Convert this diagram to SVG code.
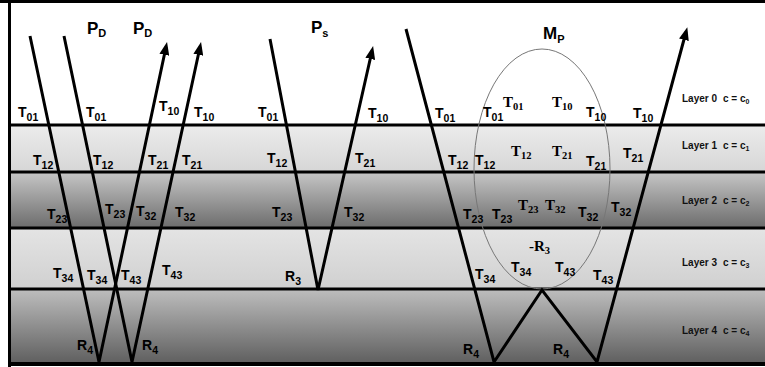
<svg xmlns="http://www.w3.org/2000/svg" width="765" height="367" viewBox="0 0 765 367">
<defs>
<linearGradient id="g1" x1="0" y1="0" x2="0" y2="1"><stop offset="0" stop-color="#ececec"/><stop offset="1" stop-color="#d6d6d6"/></linearGradient>
<linearGradient id="g2" x1="0" y1="0" x2="0" y2="1"><stop offset="0" stop-color="#c6c6c6"/><stop offset="1" stop-color="#6c6c6c"/></linearGradient>
<linearGradient id="g3" x1="0" y1="0" x2="0" y2="1"><stop offset="0" stop-color="#e4e4e4"/><stop offset="1" stop-color="#d0d0d0"/></linearGradient>
<linearGradient id="g4" x1="0" y1="0" x2="0" y2="1"><stop offset="0" stop-color="#bebebe"/><stop offset="1" stop-color="#5e5e5e"/></linearGradient>
<marker id="ah" markerUnits="userSpaceOnUse" markerWidth="14" markerHeight="10" refX="8" refY="5" orient="auto"><path d="M0,0 L13,5 L0,10 z" fill="#000"/></marker>
</defs>
<style>
.t{font-family:"Liberation Sans",Arial,sans-serif;font-weight:bold;font-size:14px;fill:#000}
.ts{font-family:"Liberation Serif","Times New Roman",serif;font-weight:bold;font-size:15px;fill:#000}
.s{font-size:10.5px}
.big{font-family:"Liberation Sans",Arial,sans-serif;font-weight:bold;font-size:17px;fill:#000}
.bs{font-size:11px}
.lay{font-family:"Liberation Sans",Arial,sans-serif;font-weight:bold;font-size:10px;fill:#111}
.ls{font-size:7px}
.ray{fill:none;stroke:#000;stroke-width:3;stroke-linejoin:miter}
.hl{stroke:#000;stroke-width:3}
</style>
<g id="layers">
<rect x="9" y="0" width="756" height="125" fill="#fff"/>
<rect x="9" y="125" width="756" height="47" fill="url(#g1)"/>
<rect x="9" y="172" width="756" height="56" fill="url(#g2)"/>
<rect x="9" y="228" width="756" height="61" fill="url(#g3)"/>
<rect x="9" y="289" width="756" height="75" fill="url(#g4)"/>
<line class="hl" x1="9" y1="125" x2="765" y2="125"/>
<line class="hl" x1="9" y1="172" x2="765" y2="172"/>
<line class="hl" x1="9" y1="228" x2="765" y2="228"/>
<line class="hl" x1="9" y1="289" x2="765" y2="289"/>
<line x1="0" y1="1.5" x2="765" y2="1.5" stroke="#000" stroke-width="3"/>
<line x1="9.5" y1="0" x2="9.5" y2="367" stroke="#000" stroke-width="3"/>
<line x1="8" y1="364" x2="765" y2="364" stroke="#000" stroke-width="4"/>
</g>
<g id="ellipse-mp">
<ellipse cx="542" cy="169" rx="68" ry="120" fill="none" stroke="#777" stroke-width="1"/>
</g>
<g id="connectors">
<polyline class="ray" points="30,36 99,362 166,47" marker-end="url(#ah)"/>
<polyline class="ray" points="64,36 132,362 200,47" marker-end="url(#ah)"/>
<polyline class="ray" points="270,39 318,290 372,51" marker-end="url(#ah)"/>
<polyline class="ray" points="406,29 494,362 542,290 597,362 686,32" marker-end="url(#ah)"/>
</g>
<g id="titles">
<text class="big" x="87" y="34">P<tspan class="bs" dy="3">D</tspan></text>
<text class="big" x="133" y="34">P<tspan class="bs" dy="3">D</tspan></text>
<text class="big" x="311" y="33">P<tspan class="bs" dy="4">s</tspan></text>
<text class="big" x="543" y="39">M<tspan class="bs" dy="4">P</tspan></text>
</g>
<g id="labels-left">
<text class="t" x="18" y="117">T<tspan class="s" dy="4">01</tspan></text>
<text class="t" x="86" y="117">T<tspan class="s" dy="4">01</tspan></text>
<text class="t" x="159" y="111">T<tspan class="s" dy="4">10</tspan></text>
<text class="t" x="194" y="117">T<tspan class="s" dy="4">10</tspan></text>
<text class="t" x="33" y="165">T<tspan class="s" dy="4">12</tspan></text>
<text class="t" x="93" y="165">T<tspan class="s" dy="4">12</tspan></text>
<text class="t" x="148" y="165">T<tspan class="s" dy="4">21</tspan></text>
<text class="t" x="182" y="165">T<tspan class="s" dy="4">21</tspan></text>
<text class="t" x="47" y="219">T<tspan class="s" dy="4">23</tspan></text>
<text class="t" x="105" y="214">T<tspan class="s" dy="4">23</tspan></text>
<text class="t" x="136" y="216">T<tspan class="s" dy="4">32</tspan></text>
<text class="t" x="175" y="217">T<tspan class="s" dy="4">32</tspan></text>
<text class="t" x="53" y="278">T<tspan class="s" dy="4">34</tspan></text>
<text class="t" x="87" y="280">T<tspan class="s" dy="4">34</tspan></text>
<text class="t" x="121" y="280">T<tspan class="s" dy="4">43</tspan></text>
<text class="t" x="162" y="275">T<tspan class="s" dy="4">43</tspan></text>
<text class="t" x="77" y="350">R<tspan class="s" dy="4">4</tspan></text>
<text class="t" x="142" y="350">R<tspan class="s" dy="4">4</tspan></text>
</g>
<g id="labels-mid">
<text class="t" x="258" y="117">T<tspan class="s" dy="4">01</tspan></text>
<text class="t" x="368" y="118">T<tspan class="s" dy="4">10</tspan></text>
<text class="t" x="267" y="163">T<tspan class="s" dy="4">12</tspan></text>
<text class="t" x="355" y="163">T<tspan class="s" dy="4">21</tspan></text>
<text class="t" x="272" y="217">T<tspan class="s" dy="4">23</tspan></text>
<text class="t" x="344" y="217">T<tspan class="s" dy="4">32</tspan></text>
<text class="t" x="285" y="281">R<tspan class="s" dy="4">3</tspan></text>
</g>
<g id="labels-right">
<text class="t" x="435" y="118">T<tspan class="s" dy="4">01</tspan></text>
<text class="t" x="483" y="117">T<tspan class="s" dy="4">01</tspan></text>
<text class="t" x="586" y="117">T<tspan class="s" dy="4">10</tspan></text>
<text class="t" x="633" y="118">T<tspan class="s" dy="4">10</tspan></text>
<text class="t" x="448" y="165">T<tspan class="s" dy="4">12</tspan></text>
<text class="t" x="475" y="165">T<tspan class="s" dy="4">12</tspan></text>
<text class="t" x="586" y="166">T<tspan class="s" dy="4">21</tspan></text>
<text class="t" x="623" y="158">T<tspan class="s" dy="4">21</tspan></text>
<text class="t" x="463" y="219">T<tspan class="s" dy="4">23</tspan></text>
<text class="t" x="492" y="219">T<tspan class="s" dy="4">23</tspan></text>
<text class="t" x="578" y="217">T<tspan class="s" dy="4">32</tspan></text>
<text class="t" x="611" y="212">T<tspan class="s" dy="4">32</tspan></text>
<text class="t" x="475" y="279">T<tspan class="s" dy="4">34</tspan></text>
<text class="t" x="511" y="272">T<tspan class="s" dy="4">34</tspan></text>
<text class="t" x="555" y="272">T<tspan class="s" dy="4">43</tspan></text>
<text class="t" x="593" y="280">T<tspan class="s" dy="4">43</tspan></text>
<text class="t" x="463" y="354">R<tspan class="s" dy="4">4</tspan></text>
<text class="t" x="553" y="354">R<tspan class="s" dy="4">4</tspan></text>
</g>
<g id="labels-mp">
<text class="ts" x="503" y="107">T<tspan class="s" dy="3">01</tspan></text>
<text class="ts" x="552" y="107">T<tspan class="s" dy="3">10</tspan></text>
<text class="ts" x="511" y="156">T<tspan class="s" dy="3">12</tspan></text>
<text class="ts" x="552" y="156">T<tspan class="s" dy="3">21</tspan></text>
<text class="ts" x="518" y="210">T<tspan class="s" dy="3">23</tspan></text>
<text class="ts" x="545" y="210">T<tspan class="s" dy="3">32</tspan></text>
<text class="ts" x="529" y="251">-R<tspan class="s" dy="3">3</tspan></text>
</g>
<g id="layer-labels">
<text class="lay" x="682" y="102">Layer 0<tspan dx="6">c = c</tspan><tspan class="ls" dy="2">0</tspan></text>
<text class="lay" x="682" y="149">Layer 1<tspan dx="6">c = c</tspan><tspan class="ls" dy="2">1</tspan></text>
<text class="lay" x="682" y="204">Layer 2<tspan dx="6">c = c</tspan><tspan class="ls" dy="2">2</tspan></text>
<text class="lay" x="682" y="266">Layer 3<tspan dx="6">c = c</tspan><tspan class="ls" dy="2">3</tspan></text>
<text class="lay" x="682" y="334">Layer 4<tspan dx="6">c = c</tspan><tspan class="ls" dy="2">4</tspan></text>
</g>
</svg>
